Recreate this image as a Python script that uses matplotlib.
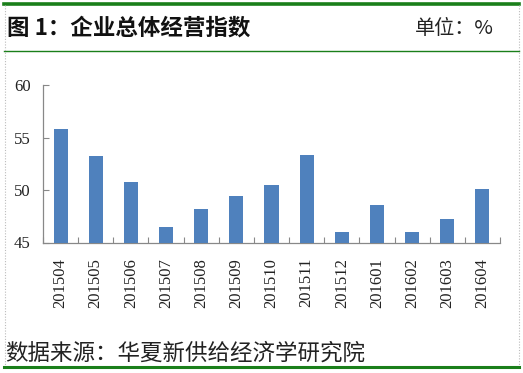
import matplotlib
matplotlib.use("Agg")
import matplotlib.pyplot as plt
from matplotlib.lines import Line2D
import numpy as np

months = ["201504", "201505", "201506", "201507", "201508", "201509", "201510",
          "201511", "201512", "201601", "201602", "201603", "201604"]
values = [55.8, 53.2, 50.8, 46.5, 48.2, 49.4, 50.5, 53.3, 46.0, 48.6, 46.0, 47.2, 50.1]
yticks = [45, 50, 55, 60]

title = "图 1：企业总体经营指数"
unit = "单位：%"
source = "数据来源：华夏新供给经济学研究院"

cjk = ["Noto Sans CJK SC", "DejaVu Sans"]
serif = ["Liberation Serif", "DejaVu Serif"]

fig = plt.figure(figsize=(5.23, 3.73), dpi=100)
W, H = 523, 373

def fx(px):
    return px / W

def fy(py):
    return 1 - py / H

green = "#1a7f1a"
# frame lines
fig.add_artist(Line2D([fx(4), fx(519)], [fy(4), fy(4)], color=green, lw=2.6))
fig.add_artist(Line2D([fx(4), fx(519)], [fy(50.5), fy(50.5)], color=green, lw=1.0))
fig.add_artist(Line2D([fx(4), fx(519)], [fy(367), fy(367)], color=green, lw=2.2))
for x in (4.5, 518.5):
    fig.add_artist(Line2D([fx(x), fx(x)], [fy(5), fy(366)], color="#bbbbbb", lw=0.8, ls=(0, (1, 1.5))))

fig.text(fx(7), fy(28), title, family=cjk, fontsize=16.2, fontweight="bold", va="center", ha="left", color="#111111")
fig.text(fx(494), fy(28), unit, family=cjk, fontsize=14.5, va="center", ha="right", color="#222222")
fig.text(fx(5), fy(353), source, family=cjk, fontsize=16.2, va="center", ha="left", color="#222222")

ax = fig.add_axes([fx(43), fy(242.5), fx(500) - fx(43), fy(85) - fy(242.5)])
x = np.arange(len(months))
ax.bar(x, [v - 45 for v in values], bottom=45, width=0.4, color="#4F81BD", zorder=3)
ax.set_xlim(-0.5, len(months) - 0.5)
ax.set_ylim(45, 60)
ax.set_yticks(yticks)
ax.set_yticklabels([str(t) for t in yticks], family=serif, fontsize=12, color="#222222")
ax.set_xticks(x)
ax.set_xticklabels(months, rotation=90, family=serif, fontsize=12, color="#222222")
ax.set_xticks(np.arange(len(months) + 1) - 0.5, minor=True)
ax.tick_params(axis="x", which="major", length=0, pad=11)
ax.tick_params(axis="x", which="minor", direction="in", length=4, color="#888888", width=0.8)
ax.tick_params(axis="y", which="major", direction="in", length=4, color="#888888", width=0.8, pad=9)
for s in ("top", "right"):
    ax.spines[s].set_visible(False)
for s in ("left", "bottom"):
    ax.spines[s].set_color("#888888")
    ax.spines[s].set_linewidth(0.9)
ax.patch.set_alpha(0)

fig.savefig("out.png", dpi=100)
